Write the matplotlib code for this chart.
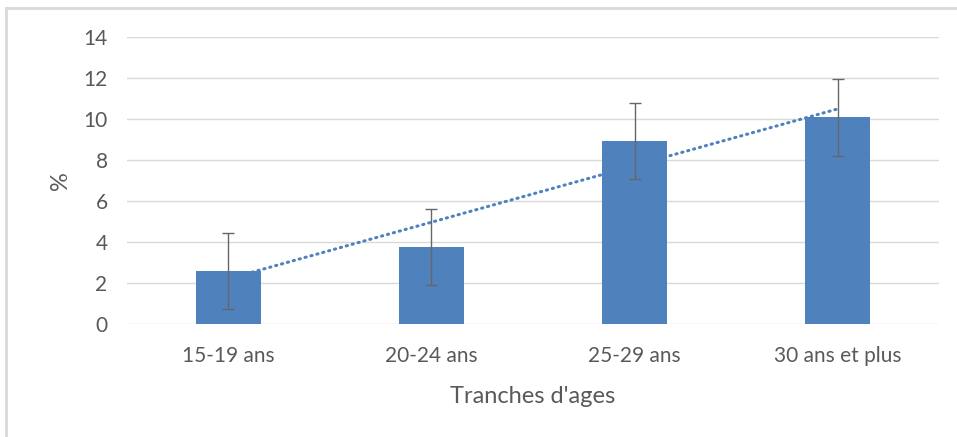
import numpy as np
import matplotlib
matplotlib.use("Agg")
import matplotlib.pyplot as plt
from matplotlib.lines import Line2D

plt.rcParams["font.family"] = ["Lato", "DejaVu Sans"]

categories = ["15-19 ans", "20-24 ans", "25-29 ans", "30 ans et plus"]
values = [2.6, 3.77, 8.94, 10.08]
errors = [1.85, 1.85, 1.85, 1.87]
y_ticks = [0, 2, 4, 6, 8, 10, 12, 14]

text_color = "#595959"
bar_color = "#4F81BD"

fig = plt.figure(figsize=(9.57, 4.37), dpi=100)
ax = fig.add_axes([0.1327, 0.2586, 0.8485, 0.6567])

x = np.arange(1, len(categories) + 1)

# linear trendline from the data, behind the bars
slope, intercept = np.polyfit(x, values, 1)
ax.plot(x, slope * x + intercept, color=bar_color, linewidth=2.2,
        linestyle=(0, (0.4, 1.6)), dash_capstyle="round", zorder=2)

ax.bar(x, values, width=0.32, color=bar_color, zorder=3)
ax.errorbar(x, values, yerr=errors, fmt="none", ecolor="#666666",
            elinewidth=1.0, capsize=4.5, capthick=1.0, zorder=4)

ax.set_xlim(0.5, 4.5)
ax.set_ylim(0, 14)
ax.set_yticks(y_ticks)
ax.set_xticks(x)
ax.set_xticklabels(categories)
ax.grid(axis="y", color="#D9D9D9", linewidth=1.0, zorder=0)
ax.set_axisbelow(True)
for side in ["top", "right", "left", "bottom"]:
    ax.spines[side].set_visible(False)
ax.tick_params(length=0, labelsize=15, colors=text_color)
ax.tick_params(axis="y", pad=14)
ax.tick_params(axis="x", pad=16)

ax.set_xlabel("Tranches d'ages", fontsize=17, color=text_color, labelpad=14)
ax.set_ylabel("%", fontsize=17, color=text_color, labelpad=9)

# chart frame edges visible in the crop
fig.add_artist(Line2D([0.006, 0.006], [0, 0.982], color="#D9D9D9", linewidth=2))
fig.add_artist(Line2D([0.006, 1.0], [0.982, 0.982], color="#D9D9D9", linewidth=2))

fig.savefig("out.png", dpi=100)
